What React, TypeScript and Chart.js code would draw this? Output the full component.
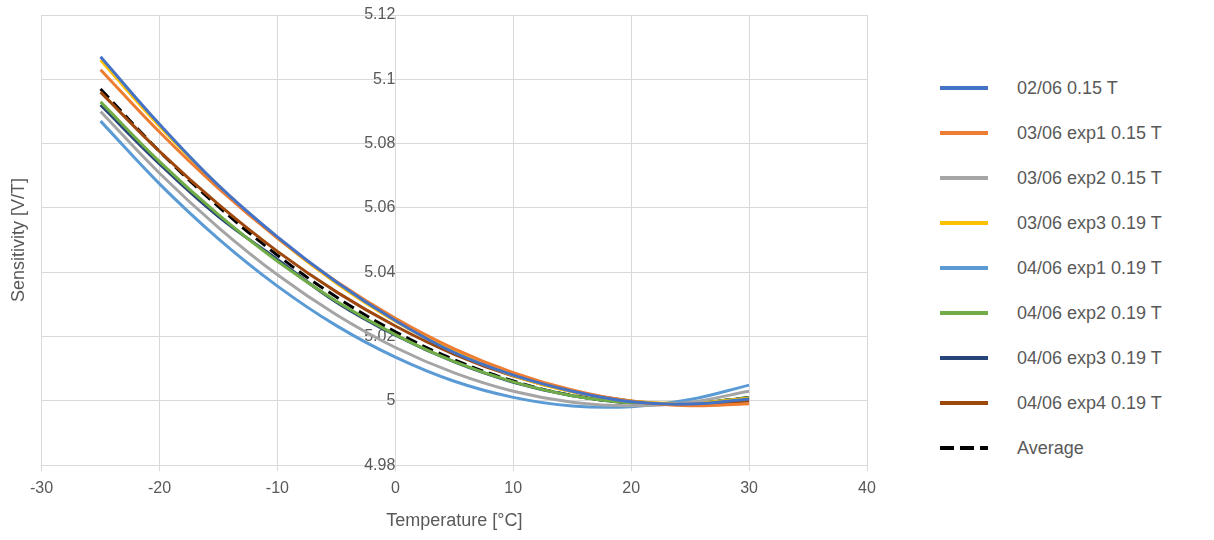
import React, { useEffect, useRef } from "react";
import Chart from "chart.js/auto";

const temps = [-25, -20, -15, -10, -5, 0, 5, 10, 15, 20, 25, 30];

const s0206 = [5.107, 5.086, 5.067, 5.051, 5.037, 5.025, 5.015, 5.008, 5.003, 4.9997, 4.999, 5.0006];
const s0306e1 = [5.103, 5.0836, 5.0661, 5.0506, 5.0371, 5.0257, 5.0162, 5.0088, 5.0034, 4.9999, 4.9985, 4.9991];
const s0306e2 = [5.09, 5.0708, 5.0539, 5.0392, 5.0268, 5.0166, 5.0087, 5.003, 4.9996, 4.9985, 4.9996, 5.003];
const s0306e3 = [5.106, 5.0854, 5.0669, 5.0506, 5.0366, 5.0248, 5.0153, 5.0079, 5.0028, 4.9999, 4.9992, 5.0008];
const s0406e1 = [5.087, 5.0675, 5.0504, 5.0357, 5.0234, 5.0136, 5.0061, 5.0011, 4.9984, 4.9982, 5.0004, 5.0049];
const s0406e2 = [5.093, 5.0744, 5.0579, 5.0434, 5.031, 5.0206, 5.0122, 5.0059, 5.0016, 4.9994, 4.9992, 5.001];
const s0406e3 = [5.092, 5.0737, 5.0573, 5.044, 5.0307, 5.0204, 5.0121, 5.0058, 5.0016, 4.9994, 4.9992, 5.001];
const s0406e4 = [5.096, 5.0776, 5.0611, 5.0465, 5.0339, 5.0233, 5.0145, 5.0077, 5.0029, 5.0, 4.999, 5.0];
const average = [5.097, 5.0776, 5.0604, 5.0453, 5.0323, 5.0215, 5.0128, 5.0062, 5.0017, 4.9994, 4.9992, 5.0011];

const series = [
  { label: "02/06 0.15 T", data: s0206, color: "#4472C4" },
  { label: "03/06 exp1 0.15 T", data: s0306e1, color: "#ED7D31" },
  { label: "03/06 exp2 0.15 T", data: s0306e2, color: "#A5A5A5" },
  { label: "03/06 exp3 0.19 T", data: s0306e3, color: "#FFC000" },
  { label: "04/06 exp1 0.19 T", data: s0406e1, color: "#5B9BD5" },
  { label: "04/06 exp2 0.19 T", data: s0406e2, color: "#70AD47" },
  { label: "04/06 exp3 0.19 T", data: s0406e3, color: "#264478" },
  { label: "04/06 exp4 0.19 T", data: s0406e4, color: "#9E480E" },
  { label: "Average", data: average, color: "#000000", dash: [12, 6] },
];

const FONT = "'Liberation Sans', sans-serif";
const TEXT = "#595959";
const GRID = "#D9D9D9";

export default function App() {
  const canvasRef = useRef<HTMLCanvasElement | null>(null);

  useEffect(() => {
    const canvas = canvasRef.current;
    if (!canvas) return;

    const chart = new Chart(canvas, {
      type: "line",
      data: {
        datasets: series.map((s) => ({
          label: s.label,
          data: s.data.map((v, i) => ({ x: temps[i], y: v })),
          borderColor: s.color,
          backgroundColor: s.color,
          borderWidth: 3,
          borderDash: s.dash || [],
          pointRadius: 0,
          tension: 0.4,
          fill: false,
          yAxisID: "y",
        })),
      },
      options: {
        responsive: true,
        maintainAspectRatio: false,
        animation: false,
        font: { family: FONT },
        layout: { padding: { top: 15, right: 18, bottom: 4, left: 4 } },
        plugins: {
          legend: { display: false },
          tooltip: { enabled: false },
        },
        scales: {
          x: {
            type: "linear",
            min: -30,
            max: 40,
            ticks: { stepSize: 10, color: TEXT, font: { family: FONT, size: 16 }, padding: 8 },
            grid: { color: GRID, tickLength: 6 },
            border: { color: GRID },
            title: { display: true, text: "Temperature [°C]", color: TEXT, font: { family: FONT, size: 18 } },
          },
          y: {
            type: "linear",
            position: { x: 0 },
            min: 4.98,
            max: 5.12,
            ticks: {
              stepSize: 0.02,
              color: TEXT,
              font: { family: FONT, size: 16 },
              callback: (v: any) => String(Number(Number(v).toFixed(2))),
            },
            grid: { color: GRID, drawTicks: false },
            border: { color: GRID },
          },
          yTitle: {
            type: "linear",
            position: "left",
            min: 4.98,
            max: 5.12,
            grid: { display: false },
            border: { display: false },
            ticks: { display: false },
            title: { display: true, text: "Sensitivity [V/T]", color: TEXT, font: { family: FONT, size: 18 } },
          },
        },
      } as any,
    });

    return () => {
      chart.destroy();
    };
  }, []);

  return (
    <div style={{ position: "absolute", left: 0, top: 0, width: 1214, height: 540, background: "#fff", fontFamily: FONT }}>
      <div style={{ position: "absolute", left: 0, top: 0, width: 885, height: 540 }}>
        <canvas ref={canvasRef} />
      </div>
      {series.map((s, i) => (
        <div
          key={s.label}
          style={{ position: "absolute", left: 940, top: 88 + i * 45 - 12, height: 24, display: "flex", alignItems: "center" }}
        >
          <svg width={48} height={6} style={{ marginRight: 29 }}>
            <line x1={0} y1={3} x2={48} y2={3} stroke={s.color} strokeWidth={4} strokeDasharray={s.dash ? "14 6" : undefined} />
          </svg>
          <span style={{ color: TEXT, fontSize: 18 }}>{s.label}</span>
        </div>
      ))}
    </div>
  );
}
